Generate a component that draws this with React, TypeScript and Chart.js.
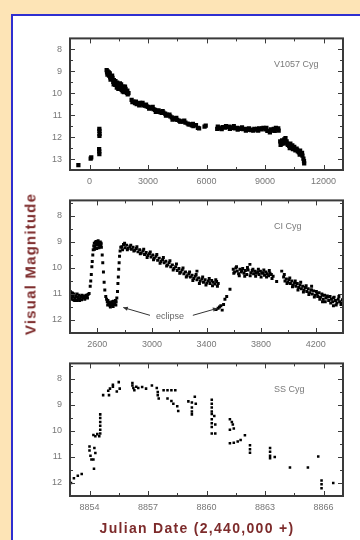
import React, { useEffect, useRef } from "react";
import { Chart, registerables } from "chart.js";

Chart.register(...registerables);

// ---------------- DATA ----------------
// V1057 Cyg: Julian Date (2,440,000 +) and visual magnitude
const v1057Jd = [
  -570, 60, 90, 495, 500, 505, 505, 510, 515, 510,
  880, 900, 930, 960, 1000, 1040, 1060, 1100, 1140, 1180, 1220, 1250, 1290, 1330, 1370, 1420, 1460, 1500, 1540, 1580,
  1620, 1650, 1700, 1740, 1780, 1820, 1870, 1920, 1960, 2000,
  2160, 2250, 2330, 2420, 2500, 2600, 2680, 2760, 2850, 2930, 3010, 3100, 3190, 3280, 3360, 3450, 3540, 3620, 3700,
  3790, 3880, 3960, 4050, 4140, 4220, 4300, 4400, 4500, 4600, 4700, 4810, 4920, 5030, 5140, 5250, 5330, 5460, 5560,
  5620, 5900, 5960,
  6550, 6620, 6720, 6830, 6940, 7050, 7150, 7250, 7350, 7450, 7560, 7660, 7760, 7880, 7980, 8080, 8180, 8280, 8400,
  8500, 8600, 8700, 8800, 8920, 9020, 9120, 9250, 9350, 9450, 9560, 9620, 9700,
  9780, 9830, 9880, 9940, 9990, 10050, 10110, 10170, 10240, 10300, 10370, 10430, 10500, 10560, 10620, 10680, 10740,
  10800, 10860, 10920, 10970, 11000, 11010,
  920, 990, 1080, 1160, 1240, 1320, 1400, 1480, 1560, 1680, 1760, 1850, 1940,
  2200, 2380, 2550, 2720, 2900, 3060, 3240, 3400, 3580, 3750, 3920, 4100, 4260, 4450, 4650, 4860, 5080, 5300,
  6580, 6780, 7000, 7200, 7400, 7600, 7820, 8020, 8230, 8450, 8650, 8860, 9070, 9300, 9500, 9680,
  9800, 9900, 10000, 10140, 10270, 10400, 10530, 10650, 10780, 10900,
];
const v1057Mag = [
  13.28, 12.98, 12.92, 12.55, 12.65, 12.78, 11.62, 11.72, 11.85, 11.95,
  8.95, 9.05, 9.0, 9.12, 9.2, 9.1, 9.28, 9.22, 9.35, 9.3, 9.48, 9.4, 9.55, 9.45, 9.6, 9.52, 9.68, 9.58, 9.75, 9.65,
  9.6, 9.85, 9.92, 9.7, 9.78, 9.7, 9.9, 9.98, 10.05, 10.0,
  10.3, 10.38, 10.45, 10.5, 10.46, 10.44, 10.5, 10.55, 10.56, 10.6, 10.62, 10.64, 10.68, 10.72, 10.76, 10.8, 10.78, 10.86, 10.9,
  10.88, 10.93, 10.97, 11.0, 11.05, 11.1, 11.15, 11.18, 11.22, 11.25, 11.28, 11.3, 11.34, 11.38, 11.42, 11.46, 11.5, 11.45, 11.58,
  11.6, 11.52, 11.48,
  11.62, 11.58, 11.6, 11.55, 11.57, 11.55, 11.52, 11.58, 11.56, 11.6, 11.58, 11.62, 11.6, 11.64, 11.62, 11.66, 11.6, 11.68, 11.7,
  11.66, 11.62, 11.6, 11.65, 11.58, 11.65, 11.72, 11.78, 11.7, 11.62, 11.58, 11.65, 11.7,
  12.2, 12.3, 12.15, 12.28, 12.1, 12.05, 12.2, 12.35, 12.4, 12.3, 12.48, 12.55, 12.45, 12.6, 12.52, 12.65, 12.7,
  12.62, 12.75, 12.85, 12.98, 13.1, 13.2,
  9.15, 9.05, 9.38, 9.2, 9.6, 9.62, 9.75, 9.8, 9.55, 9.75, 9.95, 9.8, 9.88,
  10.4, 10.38, 10.55, 10.44, 10.52, 10.7, 10.62, 10.85, 10.85, 10.82, 11.02, 10.98, 11.2, 11.12, 11.3, 11.25, 11.42, 11.4,
  11.52, 11.64, 11.5, 11.62, 11.5, 11.66, 11.56, 11.7, 11.66, 11.62, 11.7, 11.6, 11.58, 11.65, 11.72, 11.6,
  12.35, 12.3, 12.22, 12.3, 12.5, 12.38, 12.55, 12.58, 12.8, 12.72,
];

// CI Cyg
const ciCygJd = [
  2402, 2406, 2410, 2415, 2420, 2425, 2430, 2436, 2442, 2448, 2455, 2460, 2466, 2472, 2478, 2485, 2490, 2496, 2503, 2510,
  2518, 2525, 2532, 2540,
  2548, 2552, 2556, 2560, 2563, 2567, 2570,
  2574, 2578, 2582, 2586, 2590, 2594, 2598, 2602, 2606, 2610, 2614, 2618, 2622, 2626, 2630,
  2636, 2640, 2645, 2650, 2655, 2662,
  2668, 2673, 2678, 2683, 2688, 2693, 2698, 2703, 2708, 2713, 2718, 2723, 2728, 2733, 2738, 2743,
  2748, 2751, 2754, 2757, 2760, 2763, 2767, 2772,
  2780, 2792, 2804, 2815, 2826, 2838, 2850, 2862, 2874, 2886, 2898, 2910, 2922, 2934, 2946, 2958, 2970, 2982, 2994, 3006,
  3018, 3030, 3042, 3054, 3066, 3078, 3090, 3102, 3114, 3126, 3138, 3150, 3162, 3174, 3186, 3198, 3210, 3222, 3234, 3246,
  3258, 3270, 3282, 3294, 3306, 3318, 3330, 3342, 3354, 3366, 3378, 3390, 3402, 3414, 3426, 3438, 3450, 3462, 3474, 3486,
  3330,
  3470, 3485, 3495, 3505, 3515, 3525, 3535, 3548, 3572,
  3596, 3606, 3615, 3625, 3635, 3645, 3655, 3665, 3675, 3685, 3695, 3705, 3718, 3725, 3735, 3745, 3755, 3765, 3775, 3785,
  3795, 3805, 3815, 3825, 3835, 3845, 3855, 3865, 3875, 3888, 3914, 3951,
  3965, 3975, 3985, 3995, 4005, 4015, 4025, 4035, 4045, 4055, 4065, 4075, 4085, 4095, 4105, 4115, 4125, 4135, 4145, 4155,
  4165, 4175, 4185, 4195, 4205, 4215, 4225, 4235, 4245, 4255, 4265, 4275, 4285, 4295, 4305, 4315, 4325, 4335, 4345, 4355,
  4365, 4375, 4385, 4395, 4330, 4250, 4170,
  2785, 2800, 2820, 2845, 2868, 2890, 2915, 2940, 2965, 2988, 3012, 3036, 3060, 3084, 3108, 3132, 3156, 3180, 3204, 3228,
  3252, 3276, 3300, 3324, 3348, 3372, 3396, 3420, 3444, 3468, 3480,
  3600, 3620, 3640, 3660, 3680, 3700, 3720, 3740, 3760, 3780, 3800, 3820, 3840, 3860, 3880,
  3970, 3990, 4010, 4030, 4050, 4070, 4090, 4110, 4130, 4150, 4170, 4190, 4210, 4230, 4250, 4270, 4290, 4310, 4330, 4350,
  4370, 4390,
  2404, 2418, 2434, 2452, 2470, 2488, 2508, 2528,
  2580, 2596, 2612, 2628,
  2676, 2696, 2716, 2736,
];
const ciCygMag = [
  10.9, 11.05, 11.15, 10.95, 11.1, 11.22, 11.0, 11.15, 11.08, 11.25, 11.12, 11.2, 11.05, 11.18, 11.1, 11.22, 11.12, 11.15, 11.08, 11.12,
  11.05, 11.1, 11.02, 10.98,
  10.7, 10.5, 10.25, 9.95, 9.75, 9.5, 9.3,
  9.15, 9.05, 9.2, 9.0, 9.1, 8.98, 9.12, 9.05, 8.95, 9.1, 9.02, 9.15, 9.0, 9.1, 9.2,
  9.5, 9.8, 10.15, 10.55, 10.85, 11.1,
  11.2, 11.3, 11.25, 11.4, 11.32, 11.45, 11.35, 11.42, 11.3, 11.38, 11.28, 11.4, 11.35, 11.25, 11.3, 11.15,
  10.9, 10.6, 10.35, 10.05, 9.8, 9.55, 9.35, 9.2,
  9.18, 9.1, 9.22, 9.12, 9.25, 9.18, 9.28, 9.2, 9.32, 9.25, 9.38, 9.3, 9.42, 9.35, 9.48, 9.4, 9.52, 9.45, 9.58, 9.5,
  9.62, 9.55, 9.7, 9.62, 9.75, 9.68, 9.8, 9.74, 9.88, 9.8, 9.95, 9.88, 10.02, 9.95, 10.1, 10.02, 10.15, 10.08, 10.22, 10.15,
  10.3, 10.22, 10.35, 10.28, 10.4, 10.32, 10.45, 10.38, 10.5, 10.42, 10.55, 10.45, 10.58, 10.5, 10.6, 10.48, 10.55, 10.62, 10.52, 10.6,
  10.12,
  11.6, 11.55, 11.5, 11.45, 11.62, 11.4, 11.2, 11.1, 10.82,
  10.05, 10.15, 10.0, 10.12, 10.22, 10.05, 10.15, 10.02, 10.2, 10.1, 10.25, 10.08, 9.86, 10.18, 10.1, 10.22, 10.12, 10.2, 10.15, 10.25,
  10.12, 10.2, 10.18, 10.28, 10.15, 10.22, 10.3, 10.2, 10.25, 10.32, 10.52, 10.12,
  10.35, 10.5, 10.42, 10.55, 10.45, 10.6, 10.5, 10.65, 10.58, 10.7, 10.6, 10.75, 10.65, 10.8, 10.7, 10.85, 10.75, 10.9, 10.8, 10.95,
  10.85, 11.0, 10.88, 11.05, 10.9, 11.1, 10.95, 11.12, 11.0, 11.2, 11.05, 11.15, 11.08, 11.25, 11.1, 11.2, 11.3, 11.12, 11.25, 11.35,
  11.2, 11.3, 11.4, 11.22, 11.45, 11.3, 10.7,
  9.3, 9.05, 9.3, 9.12, 9.35, 9.18, 9.45, 9.28, 9.6, 9.38, 9.68, 9.48, 9.82, 9.6, 9.92, 9.72, 10.08, 9.85, 10.2, 10.0,
  10.35, 10.15, 10.48, 10.25, 10.6, 10.35, 10.65, 10.4, 10.68, 10.45, 10.7,
  10.2, 9.95, 10.3, 10.1, 10.32, 9.98, 10.3, 10.05, 10.32, 10.05, 10.35, 10.08, 10.35, 10.1, 10.4,
  10.25, 10.6, 10.38, 10.72, 10.5, 10.85, 10.55, 10.92, 10.68, 11.02, 10.85, 11.12, 10.98, 11.2, 11.05, 11.3, 11.12, 11.35, 11.15, 11.42,
  11.1, 11.35,
  11.2, 10.98, 11.25, 11.0, 11.25, 11.05, 11.2, 11.15,
  9.28, 9.25, 9.22, 9.05,
  11.42, 11.5, 11.48, 11.42,
];

// SS Cyg
const ssCygJd = [
  8853.05, 8853.2, 8853.4, 8853.6,
  8854.0, 8854.0, 8854.05, 8854.1, 8854.25, 8854.2, 8854.23, 8854.3,
  8854.2, 8854.3, 8854.4, 8854.5, 8854.55, 8854.55, 8854.55, 8854.55, 8854.55, 8854.55,
  8854.7, 8854.96, 8855.0, 8855.05, 8855.2, 8855.2, 8855.4, 8855.5, 8855.55,
  8856.2, 8856.2, 8856.25, 8856.3, 8856.4, 8856.5, 8856.7, 8856.9, 8857.2,
  8857.45, 8857.5, 8857.5, 8857.55, 8857.8, 8858.0, 8858.2, 8858.4, 8858.0, 8858.2, 8858.3, 8858.5, 8858.55,
  8859.07, 8859.25, 8859.25, 8859.25, 8859.25, 8859.4, 8859.45,
  8860.27, 8860.27, 8860.27, 8860.27, 8860.27, 8860.27, 8860.27, 8860.27, 8860.27, 8860.4, 8860.45, 8860.45,
  8861.2, 8861.3, 8861.35, 8861.2, 8861.4, 8861.2, 8861.4, 8861.6, 8861.75, 8861.97,
  8862.23, 8862.23, 8862.23,
  8863.26, 8863.26, 8863.26, 8863.26, 8863.5,
  8864.28, 8865.2, 8865.73, 8865.9, 8865.9, 8865.9, 8866.5,
];
const ssCygMag = [
  12.0, 11.82, 11.72, 11.65,
  10.6, 10.75, 10.95, 11.1, 10.65, 11.1, 11.45, 10.85,
  10.15, 10.2, 10.12, 10.2, 10.1, 9.95, 9.8, 9.65, 9.5, 9.36,
  8.62, 8.45, 8.62, 8.37, 8.22, 8.3, 8.48, 8.12, 8.37,
  8.15, 8.25, 8.35, 8.43, 8.3, 8.35, 8.31, 8.37, 8.25,
  8.35, 8.5, 8.62, 8.75, 8.43, 8.43, 8.43, 8.43, 8.75, 8.85, 8.95, 9.05, 9.23,
  8.86, 8.9, 9.1, 9.25, 9.36, 8.68, 8.95,
  8.8, 8.95, 9.1, 9.25, 9.35, 9.55, 9.7, 9.85, 10.1, 9.42, 9.75, 10.1,
  9.55, 9.65, 9.75, 9.95, 9.9, 10.47, 10.45, 10.4, 10.35, 10.16,
  10.55, 10.7, 10.84,
  10.65, 10.8, 10.95, 11.05, 11.0,
  11.4, 11.4, 10.98, 11.9, 12.05, 12.2, 12.0,
];

// Axis ticks
const v1057Ticks = [0, 3000, 6000, 9000, 12000];
const ciCygTicks = [2600, 3000, 3400, 3800, 4200];
const ssCygTicks = [8854, 8857, 8860, 8863, 8866];
const magTicks = [8, 9, 10, 11, 12, 13];

const LABEL_FONT = "'Liberation Sans', Arial, sans-serif";

type PanelCfg = {
  name: string;
  jd: number[];
  mag: number[];
  xMin: number;
  xMax: number;
  yMin: number;
  yMax: number;
  xTicks: number[];
  xMinor: number;
  yTicks: number[];
  yMinor: number;
  top: number;
  height: number;
  pointRadius: number;
  annotate?: boolean;
};

const framePlugin = {
  id: "frameTicks",
  afterDraw(chart: any, _args: any, opts: any) {
    const { ctx, chartArea: a, scales } = chart;
    const xs = scales.x;
    const ys = scales.y;
    ctx.save();
    ctx.strokeStyle = "#3a3a3a";
    ctx.lineWidth = 1;
    const drawTicks = (scale: any, majors: number[], minor: number, horizontal: boolean) => {
      const lo = Math.min(scale.min, scale.max);
      const hi = Math.max(scale.min, scale.max);
      const start = majors[0] - Math.floor((majors[0] - lo) / minor + 1e-9) * minor;
      const n = Math.floor((hi - start) / minor + 1e-9);
      for (let i = 0; i <= n; i++) {
        const v = start + i * minor;
        const isMajor = majors.some((m) => Math.abs(m - v) < 1e-6);
        const len = isMajor ? 5 : 3;
        const p = Math.round(scale.getPixelForValue(v)) + 0.5;
        ctx.beginPath();
        if (horizontal) {
          ctx.moveTo(p, a.bottom);
          ctx.lineTo(p, a.bottom - len);
          ctx.moveTo(p, a.top);
          ctx.lineTo(p, a.top + len);
        } else {
          ctx.moveTo(a.left, p);
          ctx.lineTo(a.left + len, p);
          ctx.moveTo(a.right, p);
          ctx.lineTo(a.right - len, p);
        }
        ctx.stroke();
      }
    };
    drawTicks(xs, opts.xTicks, opts.xMinor, true);
    drawTicks(ys, opts.yTicks, opts.yMinor, false);

    ctx.lineWidth = 2;
    ctx.strokeStyle = "#3a3a3a";
    ctx.strokeRect(a.left, a.top, a.right - a.left, a.bottom - a.top);

    // star name
    ctx.fillStyle = "#7a7a7a";
    ctx.font = `9px ${LABEL_FONT}`;
    ctx.textAlign = "left";
    ctx.textBaseline = "middle";
    ctx.fillText(opts.name, a.left + 204, a.top + 26);

    if (opts.annotate) {
      const px = (x: number) => xs.getPixelForValue(x);
      const py = (y: number) => ys.getPixelForValue(y);
      ctx.fillStyle = "#666";
      ctx.font = `9px ${LABEL_FONT}`;
      ctx.textAlign = "center";
      ctx.fillText("eclipse", px(3133), py(11.86));
      const arrow = (x1: number, y1: number, x2: number, y2: number) => {
        const sx = px(x1), sy = py(y1), ex = px(x2), ey = py(y2);
        ctx.strokeStyle = "#333";
        ctx.lineWidth = 1;
        ctx.beginPath();
        ctx.moveTo(sx, sy);
        ctx.lineTo(ex, ey);
        ctx.stroke();
        const ang = Math.atan2(ey - sy, ex - sx);
        ctx.beginPath();
        ctx.moveTo(ex, ey);
        ctx.lineTo(ex - 5 * Math.cos(ang - 0.45), ey - 5 * Math.sin(ang - 0.45));
        ctx.lineTo(ex - 5 * Math.cos(ang + 0.45), ey - 5 * Math.sin(ang + 0.45));
        ctx.closePath();
        ctx.fillStyle = "#333";
        ctx.fill();
      };
      arrow(2986, 11.82, 2790, 11.52);
      arrow(3300, 11.82, 3480, 11.55);
    }
    ctx.restore();
  },
};

function Panel(cfg: PanelCfg) {
  const ref = useRef<HTMLCanvasElement | null>(null);
  useEffect(() => {
    if (!ref.current) return;
    const points = cfg.jd.map((x, i) => ({ x, y: cfg.mag[i] }));
    const chart = new Chart(ref.current, {
      type: "scatter",
      data: {
        datasets: [
          {
            data: points,
            pointStyle: "rect",
            pointRadius: cfg.pointRadius,
            pointHoverRadius: cfg.pointRadius,
            backgroundColor: "#000",
            borderColor: "#000",
            borderWidth: 0,
          },
        ],
      },
      options: {
        responsive: false,
        animation: false,
        events: [],
        layout: { padding: { top: 8, right: 17, left: 0, bottom: 0 } },
        plugins: {
          legend: { display: false },
          tooltip: { enabled: false },
          frameTicks: {
            name: cfg.name,
            xTicks: cfg.xTicks,
            xMinor: cfg.xMinor,
            yTicks: cfg.yTicks,
            yMinor: cfg.yMinor,
            annotate: !!cfg.annotate,
          },
        } as any,
        scales: {
          x: {
            type: "linear",
            min: cfg.xMin,
            max: cfg.xMax,
            grid: { display: false, drawTicks: false },
            border: { display: false },
            afterBuildTicks: (scale: any) => {
              scale.ticks = cfg.xTicks.map((v) => ({ value: v }));
            },
            afterFit: (scale: any) => {
              scale.height = 20;
            },
            ticks: {
              color: "#777",
              font: { family: LABEL_FONT, size: 9 },
              padding: 6,
              maxRotation: 0,
              autoSkip: false,
              callback: (v: any) => String(v),
            },
          },
          y: {
            type: "linear",
            reverse: true,
            min: cfg.yMin,
            max: cfg.yMax,
            grid: { display: false, drawTicks: false },
            border: { display: false },
            afterBuildTicks: (scale: any) => {
              scale.ticks = cfg.yTicks
                .filter((v) => v >= cfg.yMin && v <= cfg.yMax)
                .map((v) => ({ value: v }));
            },
            afterFit: (scale: any) => {
              scale.width = 70;
            },
            ticks: {
              color: "#777",
              font: { family: LABEL_FONT, size: 9 },
              padding: 8,
              autoSkip: false,
              callback: (v: any) => String(v),
            },
          },
        },
      },
      plugins: [framePlugin],
    });
    return () => chart.destroy();
  }, []);
  return (
    <canvas
      ref={ref}
      width={360}
      height={cfg.height}
      style={{ position: "absolute", left: 0, top: cfg.top, width: 360, height: cfg.height }}
    />
  );
}

export default function App() {
  return (
    <div
      style={{
        position: "fixed",
        left: 0,
        top: 0,
        width: 360,
        height: 540,
        background: "#fde4b6",
        overflow: "hidden",
      }}
    >
      <div
        style={{
          position: "absolute",
          left: 11,
          top: 14,
          width: 400,
          height: 600,
          background: "#ffffff",
          borderLeft: "2px solid #2f2fd0",
          borderTop: "2px solid #2f2fd0",
        }}
      />
      <Panel
        name="V1057 Cyg"
        jd={v1057Jd}
        mag={v1057Mag}
        xMin={-1000}
        xMax={13000}
        yMin={7.5}
        yMax={13.5}
        xTicks={v1057Ticks}
        xMinor={1500}
        yTicks={magTicks}
        yMinor={0.5}
        top={25}
        height={165}
        pointRadius={3}
      />
      <Panel
        name="CI Cyg"
        jd={ciCygJd}
        mag={ciCygMag}
        xMin={2400}
        xMax={4400}
        yMin={7.4}
        yMax={12.5}
        xTicks={ciCygTicks}
        xMinor={200}
        yTicks={magTicks}
        yMinor={0.5}
        top={187}
        height={166}
        pointRadius={2.1}
        annotate
      />
      <Panel
        name="SS Cyg"
        jd={ssCygJd}
        mag={ssCygMag}
        xMin={8853}
        xMax={8867}
        yMin={7.4}
        yMax={12.5}
        xTicks={ssCygTicks}
        xMinor={1.5}
        yTicks={magTicks}
        yMinor={0.5}
        top={350}
        height={166}
        pointRadius={1.8}
      />
      <div
        style={{
          position: "absolute",
          left: 30,
          top: 264,
          transform: "translate(-50%, -50%) rotate(-90deg)",
          whiteSpace: "nowrap",
          fontFamily: LABEL_FONT,
          fontWeight: "bold",
          fontSize: 15,
          letterSpacing: 1.2,
          color: "#7d2b2b",
        }}
      >
        Visual Magnitude
      </div>
      <div
        style={{
          position: "absolute",
          left: 197,
          top: 528,
          transform: "translate(-50%, -50%)",
          whiteSpace: "nowrap",
          fontFamily: LABEL_FONT,
          fontWeight: "bold",
          fontSize: 14,
          letterSpacing: 1.3,
          color: "#7d2b2b",
        }}
      >
        Julian Date (2,440,000 +)
      </div>
    </div>
  );
}
